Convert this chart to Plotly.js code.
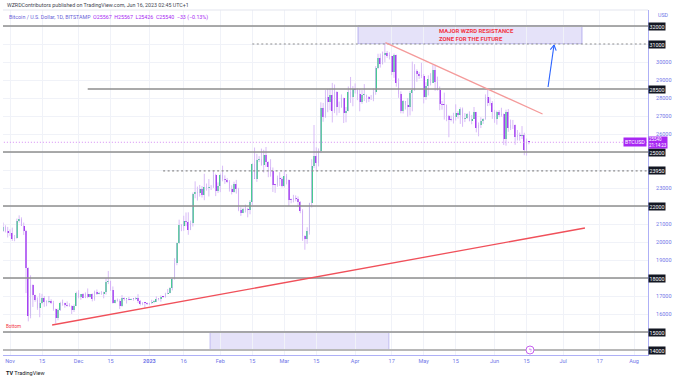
<!DOCTYPE html>
<html><head><meta charset="utf-8">
<script src="https://cdn.plot.ly/plotly-3.0.1.min.js"></script>
<style>html,body{margin:0;padding:0;background:#fff}#chart{width:680px;height:380px}</style>
</head><body><div id="chart"></div>
<script>
// Daily candles BTC/USD (Bitstamp), starting 2022-10-28
const startDate = '2022-10-28';
const open = [
20290,20600,20810,20630,
20490,20480,20150,20210,21150,21300,20910,20600,18540,15880,17600,17070,16800,16330,16620,16900,16660,16690,16700,16630,16290,15780,16230,16600,16600,16520,16460,16440,16210,16440,
17160,16970,17090,16890,17110,16970,17090,16840,17230,17130,17130,17090,17210,17780,17810,17360,16630,16780,16740,16440,16900,16820,16820,16780,16840,16830,16910,16700,16550,16630,16600,
16540,16610,16670,16670,16850,16830,16950,16940,17120,17180,17440,17940,18850,19930,20960,20880,21190,21130,20670,21080,22670,22780,22710,22920,22630,23060,23010,23080,23030,23740,22830,
23130,23730,23490,23430,23330,22930,22760,23250,22960,21800,21630,21860,21790,21780,22200,24330,23520,24570,24630,24280,24840,24440,24180,23940,23190,23160,23560,23490,
23130,23640,23470,22360,22350,22430,22410,22200,21700,20360,20190,20620,22160,24200,24770,24380,25050,27420,26970,28040,27800,28170,27300,28350,27480,27490,27990,27140,27270,28360,28030,
28480,28460,28200,27800,28170,28170,28050,27920,27950,28330,29670,30230,29890,30390,30490,30320,30320,29450,30390,28820,28250,27270,27820,27600,27520,28300,28420,29480,29340,29250,
29230,28070,28680,29030,28850,29530,28900,28440,27690,27630,27620,26990,26800,26780,26920,27170,27030,27400,26820,26890,27120,26750,26850,27230,26330,26480,26720,26860,28080,27740,27700,
27210,26820,27250,27070,27120,25740,27230,26340,26500,26480,25850,25920,25900,25920,25130,25567];
const high = [
20750,21080,20930,20840,
20700,20800,20390,21300,21480,21370,21080,20680,18590,18150,17650,17070,16920,17160,17120,17000,16760,17000,16820,16730,16300,16300,16680,16800,16630,16700,16600,16480,16530,17240,
17320,17110,17150,17200,17420,17110,17140,17300,17360,17230,17270,17240,18000,18390,17850,17530,16800,16860,16820,17050,16920,16860,16950,16860,16870,16940,17100,16780,16660,16640,16640,
16630,16790,16770,16980,16880,17030,16960,17180,17390,17490,17990,19100,19960,21240,21000,21460,21640,21650,21190,22750,23370,23080,23170,23110,23790,23250,23500,23160,23960,23790,23310,
23800,24240,23700,23560,23440,23150,23350,23450,23010,21930,21900,22080,21900,22320,24370,25250,24900,24770,25190,25120,25280,24480,24600,24140,23210,23690,23880,23600,
23990,23780,23480,22410,22620,22590,22530,22270,21820,20370,20820,22180,24600,26500,25260,25200,27760,27730,28440,28500,28520,28840,28750,28380,27800,28200,28020,27500,28640,29170,28660,
28810,28530,28500,28440,28770,28190,28110,28170,28530,29770,30460,30470,30580,31000,30610,30540,30330,30470,30410,29090,28370,27880,27830,28000,28390,30020,29880,29590,29450,29960,
29330,28880,29260,29380,29830,29840,29190,28640,27830,28300,27640,27060,27020,27180,27650,27270,27480,27470,27170,27160,27260,27060,27500,27230,26640,26930,26880,28200,28450,28040,27830,
27340,27300,27330,27460,27140,27350,27390,26800,26780,26530,26220,26080,26440,26070,25750,25567];
const low = [
20000,20560,20530,20250,
20340,20060,20040,20180,21080,20890,20390,17160,15590,15760,16390,16680,16230,15820,16540,16400,16430,16600,16550,16180,15480,15650,16170,16460,16350,16410,16400,16000,16110,16440,
16870,16790,16880,16880,16880,16910,16700,16740,17060,17090,17070,16870,17080,17660,17280,16580,16590,16690,16280,16400,16740,16580,16760,16770,16740,16790,16610,16470,16490,16330,16490,
16490,16550,16600,16660,16750,16680,16900,16910,17100,17150,17310,17910,18710,19900,20600,20620,20880,20400,20660,20860,22430,22300,22520,22470,22320,22850,22530,22890,23000,22550,22720,
22770,23370,23230,23270,22800,22640,22740,22690,21710,21450,21600,21640,21370,21540,22050,23510,23340,24440,24240,23860,24170,23600,23630,22780,22730,23070,23110,23030,
23030,23200,22000,22150,22200,22260,21940,21600,20060,19570,19900,20410,21920,24100,23960,24200,24940,26680,26900,27210,27320,26640,27160,27030,27170,27450,26610,26650,27260,27730,27540,
28250,27880,27260,27680,27830,27740,27780,27890,27820,28180,29600,29690,29860,29980,30230,30140,29270,29120,28630,28010,27150,27140,27360,26960,27030,27260,28400,28900,29060,29100,
27700,27900,28140,28700,28830,28400,28410,27320,27350,26800,26710,25820,26700,26580,26750,26850,26560,26400,26660,26830,26700,26540,26840,26090,25870,26330,26560,26790,27550,27580,26840,
26620,26520,26930,26960,25390,25350,26120,26220,26280,25400,25640,25630,25720,24820,24800,25426];
const close = [
20600,20810,20630,20490,
20480,20150,20210,21150,21300,20910,20600,18540,15880,17600,17070,16800,16330,16620,16900,16660,16690,16700,16630,16290,15780,16230,16600,16600,16520,16460,16440,16210,16440,17160,
16970,17090,16890,17110,16970,17090,16840,17230,17130,17130,17090,17210,17780,17810,17360,16630,16780,16740,16440,16900,16820,16820,16780,16840,16830,16910,16700,16550,16630,16600,16540,
16610,16670,16670,16850,16830,16950,16940,17120,17180,17440,17940,18850,19930,20960,20880,21190,21130,20670,21080,22670,22780,22710,22920,22630,23060,23010,23080,23030,23740,22830,23130,
23730,23490,23430,23330,22930,22760,23250,22960,21800,21630,21860,21790,21780,22200,24330,23520,24570,24630,24280,24840,24440,24180,23940,23190,23160,23560,23490,23130,
23640,23470,22360,22350,22430,22410,22200,21700,20360,20190,20620,22160,24200,24770,24380,25050,27420,26970,28040,27800,28170,27300,28350,27480,27490,27990,27140,27270,28360,28030,28480,
28460,28200,27800,28170,28170,28050,27920,27950,28330,29670,30230,29890,30390,30490,30320,30320,29450,30390,28820,28250,27270,27820,27600,27520,28300,28420,29480,29340,29250,29230,
28070,28680,29030,28850,29530,28900,28440,27690,27630,27620,26990,26800,26780,26920,27170,27030,27400,26820,26890,27120,26750,26850,27230,26330,26480,26720,26860,28080,27740,27700,27210,
26820,27250,27070,27120,25740,27230,26340,26500,26480,25850,25920,25900,25920,25130,25570,25540];

// Horizontal levels drawn on the chart
const solidLevels = [32000, 28500, 25000, 22000, 18000, 15000];
const solidStarts = ['2022-10-28', '2022-12-05', '2022-10-28', '2022-10-28', '2022-10-28', '2022-10-28'];
const floorLevel = 14000;
const dashedLevels = [31000, 23950];
const dashedStarts = ['2023-02-15', '2023-01-07'];
const boxLabels = [32000, 31000, 28500, 25000, 23950, 22000, 18000, 15000, 14000];
const lastPrice = 25540;
const lastTime = '21:14:23';

const xTickVals = ['2022-11-01','2022-11-15','2022-12-01','2022-12-15','2023-01-01','2023-01-16','2023-02-01','2023-02-15','2023-03-01','2023-03-15','2023-04-01','2023-04-17','2023-05-01','2023-05-15','2023-06-01','2023-06-15','2023-07-01','2023-07-17','2023-08-01'];
const xTickText = ['Nov','15','Dec','15','<b>2023</b>','16','Feb','15','Mar','15','Apr','17','May','15','Jun','15','Jul','17','Aug'];
const yTickVals = [14000,15000,16000,17000,18000,19000,20000,21000,22000,23000,24000,25000,26000,27000,28000,29000,30000,31000,32000];
const yTickText = ['','','16000','17000','','19000','20000','21000','','23000','','','26000','27000','28000','29000','30000','',''];

// ---- build ----
const dates = [];
(function(){const d0=new Date(startDate+'T00:00:00Z');for(let i=0;i<open.length;i++){dates.push(new Date(d0.getTime()+i*86400000).toISOString().slice(0,10));}})();

const UP = '#22cf78', DOWN = '#9a1ff0', WICK = '#d8bcf7';
const bodyBase = [], bodyH = [], bodyCol = [];
for (let i=0;i<open.length;i++){
  bodyBase.push(Math.min(open[i], close[i]));
  bodyH.push(Math.max(Math.abs(close[i]-open[i]), 45));
  bodyCol.push(close[i] >= open[i] ? UP : DOWN);
}

const wicks = {
  type:'ohlc', x:dates, open:open, high:high, low:low, close:close,
  tickwidth:0, increasing:{line:{color:WICK,width:1}}, decreasing:{line:{color:WICK,width:1}},
  hoverinfo:'skip', showlegend:false
};
const bodies = {
  type:'bar', x:dates, y:bodyH, base:bodyBase, width:0.8*86400000,
  marker:{color:bodyCol, line:{width:0}}, hoverinfo:'skip', showlegend:false
};

const XEND = '2023-08-10';
const LINE = '#8e8e8e';
const shapes = [];
shapes.push({type:'line', xref:'paper', yref:'paper', x0:0, x1:1, y0:1, y1:1, line:{color:'#e3e5ee', width:1}});
shapes.push({type:'rect', xref:'x', yref:'y', x0:'2023-04-02 06:00', x1:'2023-07-09 06:00', y0:31000, y1:32000,
  fillcolor:'rgba(160,150,235,0.28)', line:{color:'rgba(140,130,230,0.55)', width:1}, layer:'below'});
shapes.push({type:'rect', xref:'x', yref:'y', x0:'2023-01-27 12:00', x1:'2023-04-15 19:00', y0:13980, y1:15000,
  fillcolor:'rgba(160,150,235,0.28)', line:{color:'rgba(140,130,230,0.45)', width:1}, layer:'below'});
solidLevels.forEach((v,i)=>shapes.push({type:'line', xref:'x', yref:'y', x0:solidStarts[i], x1:XEND, y0:v, y1:v, line:{color:LINE, width:1.7}}));
shapes.push({type:'line', xref:'x', yref:'y', x0:'2022-10-28', x1:XEND, y0:floorLevel, y1:floorLevel, line:{color:'#b8b8b8', width:1.8}});
dashedLevels.forEach((v,i)=>shapes.push({type:'line', xref:'x', yref:'y', x0:dashedStarts[i], x1:XEND, y0:v, y1:v, line:{color:LINE, width:1.2, dash:'2px,2.5px'}}));
shapes.push({type:'line', xref:'x', yref:'y', x0:'2022-10-28', x1:XEND, y0:lastPrice, y1:lastPrice, line:{color:'#d58af5', width:1, dash:'1px,2px'}});
shapes.push({type:'line', xref:'x', yref:'y', x0:'2022-11-19 10:00', y0:15389, x1:'2023-07-10 13:00', y1:20778, line:{color:'#f0505a', width:1.3}});
shapes.push({type:'line', xref:'x', yref:'y', x0:'2023-04-14 06:00', y0:31072, x1:'2023-06-22 00:00', y1:27111, line:{color:'#f49a9a', width:1.3}});
shapes.push({type:'line', xref:'x', yref:'y', x0:'2023-06-24 09:36', y0:28611, x1:'2023-06-27 00:00', y1:30944, line:{color:'#2962ff', width:1.1}});
shapes.push({type:'line', xref:'x', yref:'y', x0:'2023-06-25 09:36', y0:30683, x1:'2023-06-27 00:00', y1:30944, line:{color:'#2962ff', width:1.1}});
shapes.push({type:'line', xref:'x', yref:'y', x0:'2023-06-27 23:00', y0:30633, x1:'2023-06-27 00:00', y1:30944, line:{color:'#2962ff', width:1.1}});
shapes.push({type:'circle', xref:'x', yref:'y', xsizemode:'pixel', ysizemode:'pixel', xanchor:'2023-06-16 12:00', yanchor:14000,
  x0:-4, x1:4, y0:-4, y1:4, fillcolor:'#ffffff', line:{color:'#c662ee', width:1}});

const F = 'Roboto, "Liberation Sans", Arial, sans-serif';
const ann = [];
boxLabels.forEach(v=>ann.push({xref:'paper', yref:'y', x:1, y:v, xanchor:'left', yanchor:'middle', xshift:0,
  text:String(v), showarrow:false, bgcolor:'#131722', borderpad:0.6, font:{family:F, size:5.3, color:'#ffffff'}}));
ann.push({xref:'paper', yref:'y', x:1, y:lastPrice, xanchor:'right', yanchor:'middle', xshift:-1,
  text:'BTCUSD', showarrow:false, bgcolor:'#a828f3', borderpad:1, font:{family:F, size:5.3, color:'#ffffff'}});
ann.push({xref:'paper', yref:'y', x:1, y:lastPrice, xanchor:'left', yanchor:'top', yshift:6.5,
  text:String(lastPrice)+'<br>'+lastTime, align:'left', showarrow:false, bgcolor:'#a828f3', borderpad:0, font:{family:F, size:4.5, color:'#ffffff'}});
ann.push({xref:'paper', yref:'paper', x:0.003, y:1.0145, xanchor:'left', yanchor:'middle', showarrow:false,
  text:'WZRDContributors published on TradingView.com, Jun 16, 2023 02:45 UTC+1', font:{family:F, size:5.3, color:'#434651'}});
ann.push({xref:'paper', yref:'paper', x:0.006, y:0.9797, xanchor:'left', yanchor:'middle', showarrow:false,
  text:'<span style="color:#6a5fd8">Bitcoin / U.S. Dollar, 1D, BITSTAMP</span>  O25567  H25567  L25426  C25540  −33 (−0.13%)', font:{family:F, size:5.3, color:'#a828f3'}});
ann.push({xref:'paper', yref:'paper', x:1, y:0.9855, xanchor:'left', yanchor:'middle', xshift:8, showarrow:false,
  text:'USD', font:{family:F, size:5.3, color:'#7075e8'}});
ann.push({xref:'x', yref:'y', x:'2023-05-06 19:00', y:31517, xanchor:'left', yanchor:'middle', align:'left', showarrow:false,
  text:'<b>MAJOR WZRD RESISTANCE</b><br><b>ZONE FOR THE FUTURE</b>', font:{family:F, size:5.9, color:'#f23645'}});
ann.push({xref:'paper', yref:'y', x:0.0016, y:15278, xanchor:'left', yanchor:'middle', showarrow:false,
  text:'Bottom', font:{family:F, size:4.6, color:'#f23645'}});
ann.push({xref:'x', yref:'y', x:'2023-06-16 12:00', y:14000, xanchor:'center', yanchor:'middle', showarrow:false,
  text:'ϟ', font:{family:F, size:5, color:'#c662ee'}});
ann.push({xref:'paper', yref:'paper', x:0.0016, y:-0.0522, xanchor:'left', yanchor:'middle', showarrow:false,
  text:'<b>TV</b> TradingView', font:{family:F, size:5.5, color:'#131722'}});

const layout = {
  width:680, height:380, margin:{l:3, r:32, t:10, b:25},
  paper_bgcolor:'#ffffff', plot_bgcolor:'#ffffff', showlegend:false, bargap:0,
  font:{family:F, size:5.5, color:'#7075e8'},
  xaxis:{type:'date', range:['2022-10-28 22:30','2023-08-07 03:00'], rangeslider:{visible:false},
    tickvals:xTickVals, ticktext:xTickText, ticks:'', showgrid:true, gridcolor:'#f0f2f8', gridwidth:1,
    showline:true, linecolor:'#aeb0f6', linewidth:1, zeroline:false, tickfont:{family:F, size:5.5, color:'#7075e8'}, fixedrange:true},
  yaxis:{side:'right', range:[13722, 32889], tickvals:yTickVals, ticktext:yTickText, ticks:'',
    showgrid:true, gridcolor:'#f0f2f8', gridwidth:1, showline:true, linecolor:'#aeb0f6', linewidth:1, zeroline:false,
    tickfont:{family:F, size:5.5, color:'#7075e8'}, ticklabelstandoff:6, fixedrange:true},
  shapes:shapes, annotations:ann
};
Plotly.newPlot('chart', [wicks, bodies], layout, {displayModeBar:false, staticPlot:true});
</script></body></html>
